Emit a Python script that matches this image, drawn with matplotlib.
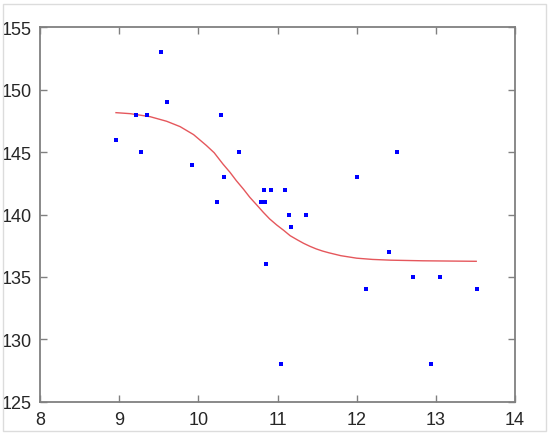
import matplotlib
matplotlib.use("Agg")
import matplotlib.pyplot as plt
from matplotlib.patches import Rectangle

## measured points
x_pts = [8.96, 9.21, 9.28, 9.35, 9.53, 9.60, 9.92, 10.24, 10.29, 10.33, 10.52,
         10.79, 10.84, 10.83, 10.85, 10.92, 11.04, 11.10, 11.14, 11.165, 11.36,
         12.00, 12.12, 12.41, 12.51, 12.71, 12.94, 13.05, 13.52]
y_pts = [146, 148, 145, 148, 153, 149, 144, 141, 148, 143, 145,
         141, 141, 142, 136, 142, 128, 142, 140, 139, 140,
         143, 134, 137, 145, 135, 128, 135, 134]

## fitted curve
x_fit = [8.96, 9.14, 9.39, 9.60, 9.77, 9.94, 10.10, 10.20, 10.31, 10.40, 10.48,
         10.57, 10.65, 10.74, 10.82, 10.90, 10.99, 11.08, 11.16, 11.25, 11.33,
         11.41, 11.49, 11.57, 11.65, 11.80, 12.00, 12.20, 12.43, 12.84, 13.51]
y_fit = [148.16, 148.08, 147.84, 147.47, 147.04, 146.40, 145.54, 144.95, 144.05, 143.38, 142.71,
         142.03, 141.38, 140.75, 140.18, 139.65, 139.16, 138.72, 138.30, 137.97, 137.69,
         137.45, 137.24, 137.07, 136.93, 136.70, 136.50, 136.40, 136.34, 136.29, 136.25]

plt.rcParams['font.family'] = ['Liberation Sans', 'DejaVu Sans']
fig = plt.figure(figsize=(5.5, 4.39), dpi=100)
fig.patches.append(Rectangle((3/550, 1 - 432/439), 543/550, 427/439, transform=fig.transFigure,
                             fill=False, edgecolor='#dcdcdc', linewidth=1.0))
ax = fig.add_axes([40/550, 1 - 402.7/439, 475/550, 374.4/439])

ax.plot(x_fit, y_fit, color='#e5575c', linewidth=1.0)
ax.plot(x_pts, y_pts, 's', color='#0000ff', markersize=2.4, markeredgewidth=0)

ax.set_xlim(8, 14)
ax.set_ylim(125, 155)
ax.set_xticks([8, 9, 10, 11, 12, 13, 14])
ax.set_yticks([125, 130, 135, 140, 145, 150, 155])
ax.tick_params(direction='in', length=5, width=1, color='#808080', labelsize=13,
               labelcolor='#262626', top=True, right=True)
ax.tick_params(axis='x', pad=7)
ax.tick_params(axis='y', pad=6)
for s in ax.spines.values():
    s.set_color('#808080')
    s.set_linewidth(1.3)

fig.savefig("out.png", dpi=100)
